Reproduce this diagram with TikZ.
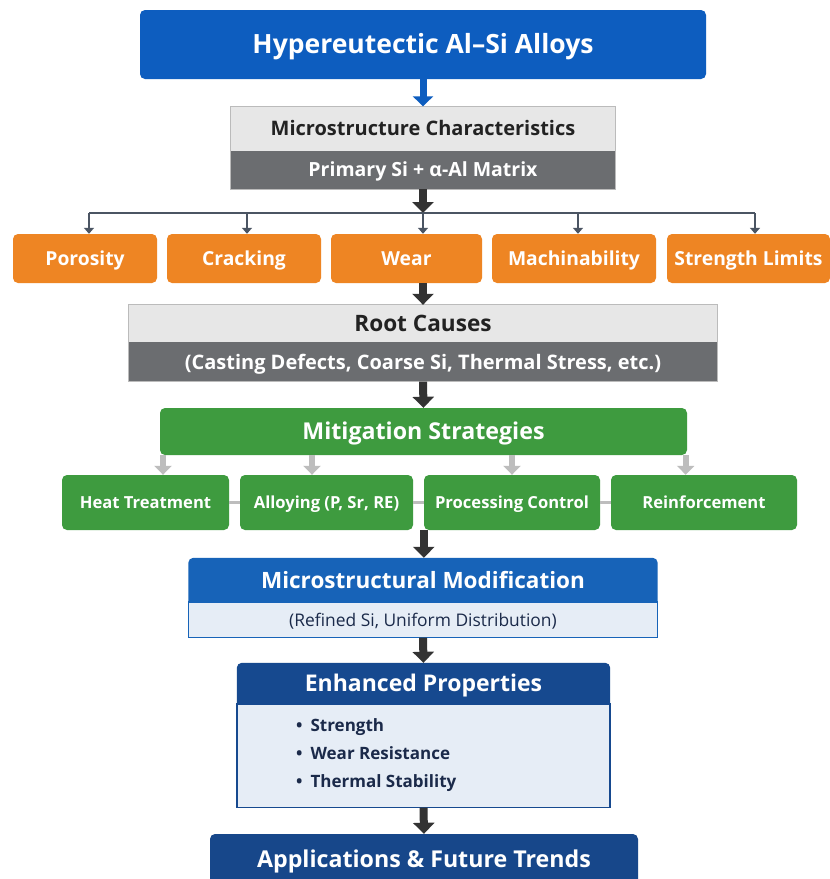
\documentclass[tikz,border=0pt]{standalone}
\usepackage{fontspec}
\setmainfont{Open Sans}
\usepackage{tikz}
\usetikzlibrary{arrows.meta,backgrounds,positioning,calc}

\definecolor{titleblue}{HTML}{0D5DBF}
\definecolor{paleframe}{HTML}{BBBBBB}
\definecolor{palegray}{HTML}{E7E7E7}
\definecolor{slategray}{HTML}{6B6D70}
\definecolor{inkdark}{HTML}{222222}
\definecolor{issueorange}{HTML}{EE8523}
\definecolor{fixgreen}{HTML}{3E9B3F}
\definecolor{forkgray}{HTML}{BDBDBD}
\definecolor{arrowdark}{HTML}{333333}
\definecolor{tapgray}{HTML}{4B5563}
\definecolor{modblue}{HTML}{1763B8}
\definecolor{enhblue}{HTML}{16498F}
\definecolor{appblue}{HTML}{17478A}
\definecolor{palebody}{HTML}{E6EDF6}
\definecolor{navyink}{HTML}{1B2A4A}

\newcommand{\fs}[1]{\fontsize{#1}{#1}\selectfont}

\begin{document}
\begin{tikzpicture}[x=1pt,y=-1pt]
  % `panel' is a plain coloured box, `half' one half of a split box.
  % `caps' puts the capitals of a label on the middle of its box.
  % `bigarrow' joins the main stages, `tap' feeds the issue boxes,
  % `fork' feeds the strategy boxes.
  \tikzstyle{caps} = [text height=#1,text depth=0pt]
  \tikzstyle{panel} = [rounded corners=5pt,inner sep=0pt,font=\bfseries,text=white]
  \tikzstyle{half} = [inner sep=0pt,minimum width=589pt]
  \tikzstyle{issue} = [panel,fill=issueorange,minimum height=49pt,font=\bfseries\fs{19.3},caps=13.8pt]
  \tikzstyle{strategy} = [panel,fill=fixgreen,minimum height=55pt,font=\bfseries\fs{16.6},caps=11.9pt]
  \tikzstyle{bigarrow} = [draw=arrowdark,line width=8pt,-{Triangle[width=21pt,length=11pt]}]
  \tikzstyle{tap} = [draw=tapgray,line width=1.4pt,-{Triangle[width=10pt,length=6pt]}]
  \tikzstyle{fork} = [draw=forkgray,line width=6pt,-{Triangle[width=17pt,length=9pt]}]
  \tikzstyle{joint} = [draw=forkgray,line width=2.5pt]
  \tikzstyle{item} = [anchor=west,inner sep=0pt,text=navyink,font=\bfseries\fs{17},caps=12.1pt]
  \useasboundingbox (0,0) rectangle (830,879);
  %
  % Title.
  \node[panel,fill=titleblue,minimum width=566pt,minimum height=69pt,
    font=\bfseries\fs{26.5},caps=18.9pt] (title) at (423,44.5) {Hypereutectic Al--Si Alloys};
  %
  % Microstructure box (two halves).
  \node[half,fill=palegray,minimum width=384pt,minimum height=44pt,
    text=inkdark,font=\bfseries\fs{20},caps=14.3pt] (mtop) at (423,128.5) {Microstructure Characteristics};
  \node[half,fill=slategray,minimum width=384pt,minimum height=38pt,
    text=white,font=\bfseries\fs{19.5},caps=13.9pt,below=0pt of mtop] (mbot) {Primary Si + α-Al Matrix};
  \draw[paleframe,line width=1.2pt] (mtop.north west) rectangle (mbot.south east);
  %
  % Issue row.
  \node[issue,minimum width=144pt] (poro) at (85,258.5) {Porosity};
  \node[issue,minimum width=154pt] (crack) at (244,258.5) {Cracking};
  \node[issue,minimum width=151pt] (wear) at (406.5,258.5) {Wear};
  \node[issue,minimum width=164pt] (mach) at (574,258.5) {Machinability};
  \node[issue,minimum width=163pt] (limit) at (748.5,258.5) {Strength Limits};
  %
  % Root causes box (two halves).
  \node[half,fill=palegray,minimum height=37pt,text=inkdark,
    font=\bfseries\fs{22.6},caps=16.1pt] (rtop) at (423,323.5) {Root Causes};
  \node[half,fill=slategray,minimum height=39pt,text=white,
    font=\bfseries\fs{20},caps=14.3pt,below=0pt of rtop] (rbot) {(Casting Defects, Coarse Si, Thermal Stress, etc.)};
  \draw[paleframe,line width=1.2pt] (rtop.north west) rectangle (rbot.south east);
  %
  % Strategies.
  \node[panel,fill=fixgreen,minimum width=527pt,minimum height=47pt,
    font=\bfseries\fs{23.2},caps=16.6pt] (mitig) at (423.5,431.5) {Mitigation Strategies};
  \node[strategy,minimum width=167pt] (heat) at (145.5,502.5) {Heat Treatment};
  \node[strategy,minimum width=173pt] (alloy) at (326.5,502.5) {Alloying (P, Sr, RE)};
  \node[strategy,minimum width=176pt] (proc) at (512,502.5) {Processing Control};
  \node[strategy,minimum width=186pt] (reinf) at (704,502.5) {Reinforcement};
  %
  % Modification box: blue head, pale body.
  \node[half,minimum width=469pt,minimum height=44pt,text=white,
    font=\bfseries\fs{22.5},caps=16.1pt] (mhead) at (423,580) {Microstructural Modification};
  \node[half,minimum width=469pt,minimum height=35pt,text=navyink,
    font=\fs{17.4},caps=12.4pt,below=0pt of mhead] (mbody) {(Refined Si, Uniform Distribution)};
  %
  % Properties box: blue head, pale body with a list.
  \node[half,minimum width=373pt,minimum height=41pt,text=white,
    font=\bfseries\fs{23},caps=16.4pt] (ehead) at (423.5,683.5) {Enhanced Properties};
  \node[inner sep=0pt,minimum width=373pt,minimum height=103pt,
    below=0pt of ehead] (ebody) {};
  \node[item] (p1) at (296,725) {•\hspace{8pt}Strength};
  \node[item] (p2) at (296,753.5) {•\hspace{8pt}Wear Resistance};
  \node[item] (p3) at (296,781.5) {•\hspace{8pt}Thermal Stability};
  %
  % Last stage, cut by the page edge.
  \node[panel,fill=appblue,minimum width=428pt,minimum height=50pt,
    font=\bfseries\fs{23.2},caps=16.6pt] (apps) at (424,859) {Applications \& Future Trends};
  %
  \begin{pgfonlayer}{background}
    \fill[white] (0,0) rectangle (830,879);
    % Head fills reach under the bodies so only the top corners show round.
    \fill[modblue,rounded corners=5pt] (mhead.north west) rectangle ($(mhead.south east)+(0,8)$);
    \fill[enhblue,rounded corners=5pt] (ehead.north west) rectangle ($(ehead.south east)+(0,8)$);
    \filldraw[fill=palebody,draw=modblue,line width=1.5pt] (mbody.north west) rectangle (mbody.south east);
    \filldraw[fill=palebody,draw=enhblue,line width=1.5pt] (ebody.north west) rectangle (ebody.south east);
  \end{pgfonlayer}
  %
  % Connectors.
  \draw[draw=titleblue,line width=7pt,-{Triangle[width=20pt,length=10pt]}] (title.south) -- (mtop.north);
  \coordinate (t1) at (89,213);
  \coordinate (t2) at (247,213);
  \coordinate (t3) at (423,213);
  \coordinate (t4) at (578,213);
  \coordinate (t5) at (755,213);
  \draw[bigarrow] (mbot.south) -- (t3);
  \draw[draw=tapgray,line width=1.4pt] (t1) -- (t5);
  \draw[tap] (t1) -- (t1 |- poro.north);
  \draw[tap] (t2) -- (t2 |- crack.north);
  \draw[tap] (t3) -- (t3 |- wear.north);
  \draw[tap] (t4) -- (t4 |- mach.north);
  \draw[tap] (t5) -- (t5 |- limit.north);
  \draw[bigarrow] (wear.south -| rtop.north) -- (rtop.north);
  \draw[bigarrow] (rbot.south) -- (mitig.north);
  \draw[fork] (mitig.south west -| heat.north) ++(17.5,0) coordinate (f1) -- (f1 |- heat.north);
  \draw[fork] (mitig.south -| alloy.north) ++(-14.5,0) coordinate (f2) -- (f2 |- alloy.north);
  \draw[fork] (mitig.south -| proc.north) coordinate (f3) -- (f3 |- proc.north);
  \draw[fork] (mitig.south east) ++(-1.5,0) coordinate (f4) -- (f4 |- reinf.north);
  \draw[joint] (heat.east) -- (alloy.west);
  \draw[joint] (alloy.east) -- (proc.west);
  \draw[joint] (proc.east) -- (reinf.west);
  \draw[bigarrow] (proc.south west) -- (proc.south west |- mhead.north);
  \draw[bigarrow] (mbody.south) -- (ehead.north);
  \draw[bigarrow] (ebody.south) -- (apps.north);
\end{tikzpicture}
\end{document}
